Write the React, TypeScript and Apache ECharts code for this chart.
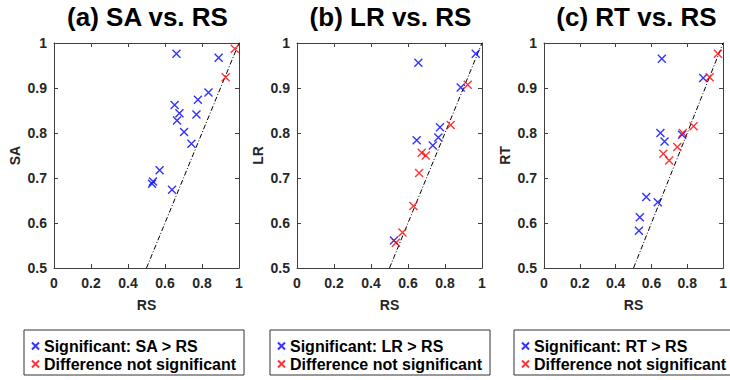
import React, { useEffect, useRef } from "react";
import * as echarts from "echarts";

// ---- data ----
const panelTitles = ["(a) SA vs. RS", "(b) LR vs. RS", "(c) RT vs. RS"];
const yNames = ["SA", "LR", "RT"];
const xName = "RS";
const sigNames = ["Significant: SA > RS", "Significant: LR > RS", "Significant: RT > RS"];
const nsName = "Difference not significant";

const xTicks = [0, 0.2, 0.4, 0.6, 0.8, 1];
const yTicks = [0.5, 0.6, 0.7, 0.8, 0.9, 1];

// (a) SA vs RS
const saSigRS = [0.662, 0.89, 0.835, 0.778, 0.652, 0.678, 0.77, 0.665, 0.703, 0.743, 0.571, 0.535, 0.53, 0.638];
const saSigVal = [0.976, 0.967, 0.89, 0.874, 0.862, 0.844, 0.841, 0.828, 0.802, 0.776, 0.717, 0.692, 0.687, 0.674];
const saNsRS = [0.977, 0.928];
const saNsVal = [0.987, 0.924];

// (b) LR vs RS
const lrSigRS = [0.656, 0.966, 0.885, 0.773, 0.764, 0.647, 0.734, 0.524];
const lrSigVal = [0.956, 0.976, 0.901, 0.813, 0.79, 0.784, 0.772, 0.561];
const lrNsRS = [0.923, 0.831, 0.674, 0.696, 0.66, 0.629, 0.57, 0.535];
const lrNsVal = [0.907, 0.818, 0.756, 0.75, 0.711, 0.638, 0.579, 0.556];

// (c) RT vs RS
const rtSigRS = [0.658, 0.889, 0.65, 0.673, 0.771, 0.571, 0.635, 0.535, 0.53];
const rtSigVal = [0.965, 0.922, 0.8, 0.781, 0.796, 0.658, 0.646, 0.613, 0.583];
const rtNsRS = [0.971, 0.925, 0.835, 0.775, 0.744, 0.666, 0.699];
const rtNsVal = [0.976, 0.924, 0.815, 0.8, 0.769, 0.754, 0.739];

// identity reference line
const diagX = [0.5, 1];
const diagY = [0.5, 1];

const sigX = [saSigRS, lrSigRS, rtSigRS];
const sigY = [saSigVal, lrSigVal, rtSigVal];
const nsX = [saNsRS, lrNsRS, rtNsRS];
const nsY = [saNsVal, lrNsVal, rtNsVal];

const zip = (a: number[], b: number[]) => a.map((v, i) => [v, b[i]]);

const FONT = "Liberation Sans";
const AXIS_COLOR = "#404040";
const TEXT_COLOR = "#262626";
const CROSS = "path://M0,0L10,10M10,0L0,10";

const grids = [
  { left: 54, width: 185 },
  { left: 297, width: 185 },
  { left: 544, width: 183 },
];
const legendLefts = [24, 270, 514];

export default function App() {
  const ref = useRef<HTMLDivElement>(null);
  useEffect(() => {
    if (!ref.current) return;
    const chart = echarts.init(ref.current, undefined, { renderer: "svg" });

    const grid: any[] = [];
    const xAxis: any[] = [];
    const yAxis: any[] = [];
    const series: any[] = [];
    const legend: any[] = [];
    const graphic: any[] = [];

    grids.forEach((g, i) => {
      grid.push({ left: g.left, width: g.width, top: 43, height: 225 });
      const common = {
        gridIndex: i,
        type: "value",
        splitLine: { show: false },
        axisLine: { onZero: false, lineStyle: { color: AXIS_COLOR, width: 1 } },
        axisTick: { inside: true, length: 4, lineStyle: { color: AXIS_COLOR } },
      };
      xAxis.push({
        ...common,
        position: "bottom",
        min: xTicks[0],
        max: xTicks[xTicks.length - 1],
        interval: 0.2,
        name: xName,
        nameLocation: "middle",
        nameGap: 30,
        nameTextStyle: { fontFamily: FONT, fontWeight: "bold", fontSize: 14, color: TEXT_COLOR },
        axisLabel: { fontFamily: FONT, fontWeight: "bold", fontSize: 14, color: TEXT_COLOR, margin: 8 },
      });
      xAxis.push({
        ...common,
        position: "top",
        min: xTicks[0],
        max: xTicks[xTicks.length - 1],
        interval: 0.2,
        axisLabel: { show: false },
      });
      yAxis.push({
        ...common,
        position: "left",
        min: yTicks[0],
        max: yTicks[yTicks.length - 1],
        interval: 0.1,
        name: yNames[i],
        nameLocation: "middle",
        nameGap: 32,
        nameTextStyle: { fontFamily: FONT, fontWeight: "bold", fontSize: 14, color: TEXT_COLOR },
        axisLabel: { fontFamily: FONT, fontWeight: "bold", fontSize: 14, color: TEXT_COLOR, margin: 7 },
      });
      yAxis.push({
        ...common,
        position: "right",
        min: yTicks[0],
        max: yTicks[yTicks.length - 1],
        interval: 0.1,
        axisLabel: { show: false },
      });

      series.push({
        type: "line",
        xAxisIndex: 2 * i,
        yAxisIndex: 2 * i,
        data: zip(diagX, diagY),
        symbol: "none",
        lineStyle: { color: "#000", width: 1, type: [5, 2, 1, 2] },
        silent: true,
        z: 1,
      });
      series.push({
        type: "scatter",
        name: sigNames[i],
        xAxisIndex: 2 * i,
        yAxisIndex: 2 * i,
        data: zip(sigX[i], sigY[i]),
        symbol: CROSS,
        symbolSize: 8,
        itemStyle: { color: "#0000ff", borderColor: "#0000ff", borderWidth: 1.4 },
        z: 3,
      });
      series.push({
        type: "scatter",
        name: nsName,
        xAxisIndex: 2 * i,
        yAxisIndex: 2 * i,
        data: zip(nsX[i], nsY[i]),
        symbol: CROSS,
        symbolSize: 8,
        itemStyle: { color: "#ff0000", borderColor: "#ff0000", borderWidth: 1.4 },
        z: 4,
      });

      legend.push({
        data: [sigNames[i], nsName],
        orient: "vertical",
        left: legendLefts[i],
        top: 330,
        padding: [7, 8, 2, 7],
        itemGap: 0,
        itemWidth: 7,
        itemHeight: 7,
        icon: CROSS,
        borderColor: "#333",
        borderWidth: 1,
        backgroundColor: "#fff",
        selectedMode: false,
        textStyle: { fontFamily: FONT, fontWeight: "bold", fontSize: 16, color: "#000", lineHeight: 18 },
      });

      graphic.push({
        type: "text",
        x: g.left + g.width / 2 + 1,
        y: 17,
        style: {
          text: panelTitles[i],
          fontFamily: FONT,
          fontWeight: "bold",
          fontSize: 26,
          fill: "#000",
          align: "center",
          verticalAlign: "middle",
        },
      });
    });

    chart.setOption({
      animation: false,
      backgroundColor: "#fff",
      grid,
      xAxis,
      yAxis,
      series,
      legend,
      graphic,
    });
    return () => chart.dispose();
  }, []);

  return (
    <div
      ref={ref}
      style={{ position: "absolute", left: 0, top: 0, width: 730, height: 380 }}
    />
  );
}
